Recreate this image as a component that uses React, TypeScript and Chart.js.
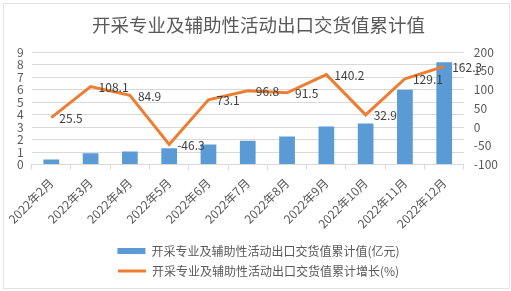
import React, { useEffect, useRef } from "react";
import { Chart, registerables } from "chart.js";

Chart.register(...registerables);

const categories = ["2022年2月", "2022年3月", "2022年4月", "2022年5月", "2022年6月", "2022年7月", "2022年8月", "2022年9月", "2022年10月", "2022年11月", "2022年12月"];
const exportValue = [0.4, 0.9, 1.05, 1.3, 1.6, 1.9, 2.25, 3.05, 3.3, 6.0, 8.2];
const growthRate = [25.5, 108.1, 84.9, -46.3, 73.1, 96.8, 91.5, 140.2, 32.9, 129.1, 162.3];
const titleText = "开采专业及辅助性活动出口交货值累计值";
const barLabel = "开采专业及辅助性活动出口交货值累计值(亿元)";
const lineLabel = "开采专业及辅助性活动出口交货值累计增长(%)";

const FONT = "'Noto Sans CJK SC', 'Microsoft YaHei', sans-serif";

const lineLabelPlugin = {
  id: "lineLabels",
  afterDatasetsDraw(chart: any) {
    const ctx = chart.ctx;
    const meta = chart.getDatasetMeta(1);
    const data = chart.data.datasets[1].data as number[];
    ctx.save();
    ctx.font = `12px ${FONT}`;
    ctx.fillStyle = "#404040";
    ctx.textAlign = "left";
    ctx.textBaseline = "middle";
    meta.data.forEach((pt: any, i: number) => {
      ctx.fillText(String(data[i]), pt.x + 8, pt.y + 1);
    });
    ctx.restore();
  },
};

export default function App() {
  const ref = useRef<HTMLCanvasElement>(null);
  useEffect(() => {
    if (!ref.current) return;
    const chart = new Chart(ref.current, {
      data: {
        labels: categories,
        datasets: [
          {
            type: "bar",
            label: barLabel,
            data: exportValue,
            backgroundColor: "#5b9bd5",
            yAxisID: "y",
            barPercentage: 0.4,
            categoryPercentage: 1,
            pointStyle: "rect",
            order: 2,
          },
          {
            type: "line",
            label: lineLabel,
            data: growthRate,
            borderColor: "#ed7d31",
            backgroundColor: "#ed7d31",
            borderWidth: 3,
            pointRadius: 0,
            pointStyle: "line",
            tension: 0,
            yAxisID: "y1",
            order: 1,
          },
        ],
      } as any,
      options: {
        animation: false,
        responsive: false,
        layout: { padding: { left: 9, right: 3, top: 2, bottom: 4 } },
        plugins: {
          title: {
            display: true,
            text: titleText,
            color: "#595959",
            font: { family: FONT, size: 18.5, weight: "normal" },
            padding: { top: 12, bottom: 16 },
          },
          legend: {
            position: "bottom",
            labels: {
              color: "#595959",
              font: { family: FONT, size: 12 },
              usePointStyle: true,
              pointStyleWidth: 28,
              boxHeight: 6,
              padding: 8,
              sort: (a: any, b: any) => a.datasetIndex - b.datasetIndex,
            },
          },
          tooltip: { enabled: false },
        },
        scales: {
          x: {
            offset: true,
            grid: { display: true, drawOnChartArea: false, offset: true, color: "#d9d9d9", tickLength: 5 },
            border: { color: "#d9d9d9" },
            ticks: {
              color: "#595959",
              font: { family: FONT, size: 12 },
              maxRotation: 45,
              minRotation: 45,
              padding: 6,
              autoSkip: false,
            },
          },
          y: {
            position: "left",
            min: 0,
            max: 9,
            ticks: { stepSize: 1, autoSkip: false, color: "#595959", font: { family: FONT, size: 12 }, padding: 8 },
            grid: { color: "#d9d9d9", drawTicks: false },
            border: { display: false },
          },
          y1: {
            position: "right",
            min: -100,
            max: 200,
            ticks: { stepSize: 50, autoSkip: false, color: "#595959", font: { family: FONT, size: 12 }, padding: 10 },
            grid: { display: false, drawTicks: false },
            border: { display: false },
          },
        },
      } as any,
      plugins: [lineLabelPlugin],
    });
    return () => chart.destroy();
  }, []);
  return (
    <div style={{ position: "absolute", left: 0, top: 0, width: 511, height: 291, background: "#fff" }}>
      <canvas ref={ref} width={511} height={291} />
      <div
        style={{
          position: "absolute",
          left: 3,
          top: 3,
          width: 505,
          height: 284,
          border: "1px solid #e3e3e3",
          pointerEvents: "none",
        }}
      />
    </div>
  );
}
